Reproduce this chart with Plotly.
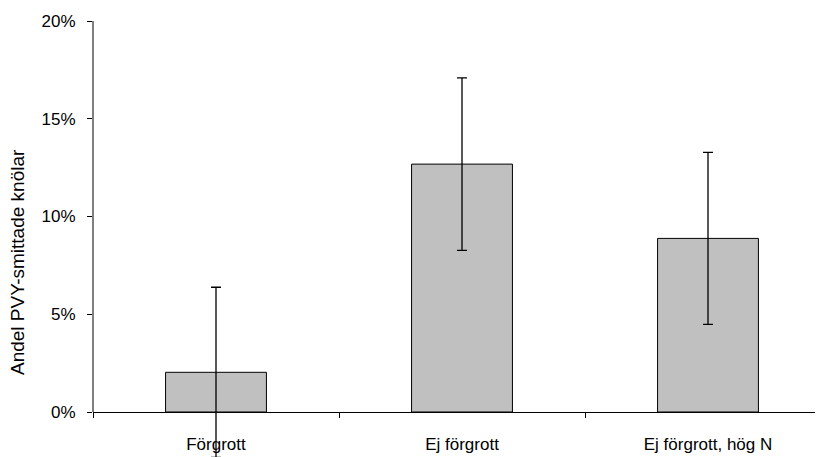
import plotly.graph_objects as go

categories = ["Förgrott", "Ej förgrott", "Ej förgrott, hög N"]
values = [0.0203, 0.1268, 0.0888]
errors = [0.0435, 0.0441, 0.0440]
y_ticks = [0, 0.05, 0.10, 0.15, 0.20]
y_ticklabels = ["0%", "5%", "10%", "15%", "20%"]
y_title = "Andel PVY-smittade knölar"

FONT = "Liberation Sans, Arial, sans-serif"

# layout geometry (page pixels); the page body adds an 8px offset
OFF = 8
PAGE_W, PAGE_H = 823, 457
W, H = PAGE_W - OFF, PAGE_H - OFF
PLOT_LEFT, PLOT_TOP, ZERO_ROW = 93, 21, 412
LEFT, TOP = PLOT_LEFT - OFF, PLOT_TOP - OFF
Y_MAX = 0.20
px_per_unit = (ZERO_ROW - PLOT_TOP) / Y_MAX
y_min = -(PAGE_H - ZERO_ROW) / px_per_unit   # extend plot area below 0 so error bars aren't clipped
x_axis_pos = (PAGE_H - ZERO_ROW) / (PAGE_H - PLOT_TOP)
plot_w = PAGE_W - PLOT_LEFT
plot_h = PAGE_H - PLOT_TOP
band = 246

# y-title placement (page pixels)
TITLE_X, TITLE_Y = 18, 262

fig = go.Figure()
fig.add_trace(go.Bar(
    x=categories,
    y=values,
    marker=dict(color="#c0c0c0", line=dict(color="#000000", width=1)),
    error_y=dict(type="data", array=errors, visible=True, color="#000000",
                 thickness=1.3, width=5),
    cliponaxis=False,
))

fig.update_layout(
    width=W, height=H,
    margin=dict(l=LEFT, r=0, t=TOP, b=0),
    paper_bgcolor="white", plot_bgcolor="white",
    bargap=0.59,
    showlegend=False,
    font=dict(family=FONT, size=17, color="#000000"),
)
fig.update_xaxes(
    type="category",
    range=[-0.5, -0.5 + plot_w / band],
    anchor="free", position=x_axis_pos,
    showline=True, linecolor="#000000", linewidth=1,
    ticks="outside", tickson="boundaries", ticklen=5, tickcolor="#000000",
    ticklabelstandoff=17,
    showgrid=False, zeroline=False, automargin=False,
    tickfont=dict(family=FONT, size=17, color="#000000"),
)
fig.update_yaxes(
    range=[y_min, Y_MAX],
    tickvals=y_ticks, ticktext=y_ticklabels,
    showline=False,
    ticks="outside", ticklen=5, tickcolor="#000000",
    ticklabelstandoff=8,
    showgrid=False, zeroline=False, automargin=False,
    tickfont=dict(family=FONT, size=17, color="#000000"),
)
# y-axis line from 0% to the top of the scale
fig.add_shape(type="line", xref="paper", yref="y",
              x0=0, x1=0, y0=0, y1=Y_MAX,
              line=dict(color="#000000", width=1), layer="above")
# y-axis title
fig.add_annotation(
    text=y_title, textangle=-90, showarrow=False,
    xref="paper", yref="paper",
    x=(TITLE_X - PLOT_LEFT) / plot_w, y=(PAGE_H - TITLE_Y) / plot_h,
    xanchor="center", yanchor="middle",
    font=dict(family=FONT, size=19, color="#000000"),
)

fig.write_html("out.html")
